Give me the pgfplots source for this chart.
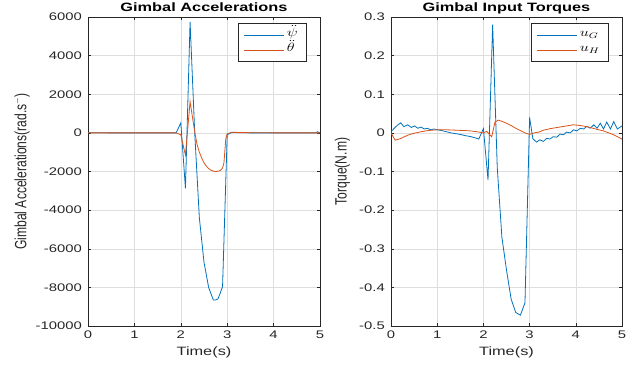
\documentclass[border=0pt]{standalone}
\usepackage{fontspec}
\setmainfont{Liberation Sans}[FakeStretch=1.35]
\newfontfamily\plainfont{Liberation Sans}
\usepackage{graphicx}
\usepackage{pgfplots}
\pgfplotsset{compat=1.18}
\definecolor{mblue}{rgb}{0,0.447,0.741}
\definecolor{morange}{rgb}{0.85,0.325,0.098}
\definecolor{maxis}{rgb}{0.15,0.15,0.15}
\definecolor{mgrid}{rgb}{0.87,0.87,0.87}
\pgfplotsset{every axis title shift=0pt}
\pgfplotsset{mstyle/.style={
  scale only axis, height=309pt,
  xmin=0, xmax=5, xtick={0,1,2,3,4,5}, xticklabels={0,1,2,3,4,5},
  scaled x ticks=false, scaled y ticks=false,
  grid=major, major grid style={mgrid, line width=0.5pt},
  axis line style={maxis, line width=0.5pt},
  tick style={maxis, line width=0.5pt},
  major tick length=3pt, tick align=inside, tick pos=both,
  ticklabel style={font=\fontsize{11}{13}\selectfont, text=maxis},
  xticklabel style={anchor=base, yshift=-12pt, inner sep=0pt},
  yticklabel style={anchor=east, xshift=-6pt, inner sep=0pt},
  title style={font=\fontsize{12.1}{14}\selectfont\bfseries, at={(axis description cs:0.5,1.0194)}, anchor=base, inner sep=0pt},
  xlabel style={font=\fontsize{12.1}{14}\selectfont, text=maxis, at={(axis description cs:0.5,-0.097)}, anchor=base, inner sep=0pt},
  ylabel style={anchor=center, inner sep=0pt, text=maxis},
  legend style={at={(0.94,0.98)}, anchor=north east, draw=maxis, line width=0.5pt, fill=white,
    font=\fontsize{12}{14}\selectfont, inner xsep=5pt, inner ysep=4pt, row sep=0pt,
    nodes={inner xsep=3pt, inner ysep=2.5pt, text height=7pt, text depth=3pt}},
  legend cell align=left,
  legend image code/.code={\draw[#1, line width=0.6pt] (0pt,0pt) -- (40pt,0pt);},
  every axis plot/.append style={line width=0.8pt},
}}
\begin{document}
\begin{tikzpicture}
\path[use as bounding box] (0,0) rectangle (643pt,370pt);
% Left axis
\begin{axis}[mstyle, anchor=south west, at={(88pt,44pt)}, width=232pt,
  ymin=-10000, ymax=6000, ytick={-10000,-8000,-6000,-4000,-2000,0,2000,4000,6000},
  yticklabels={-10000,-8000,-6000,-4000,-2000,0,2000,4000,6000},
  title={Gimbal Accelerations},
  xlabel={Time(s)},
  ylabel={\plainfont\fontsize{12.1}{14}\selectfont\scalebox{1}[1.35]{Gimbal Accelerations(rad.s$^{-}$)}},
  ylabel style={at={(axis description cs:-0.285,0.5)}},
]
\addplot[mblue] coordinates {
(0,10) (0.5,0) (1.0,0) (1.5,0) (1.9,0) (2.0,520) (2.1,-2870) (2.2,5750) (2.3,0) (2.4,-4400)
(2.5,-6700) (2.6,-8000) (2.7,-8650) (2.75,-8650) (2.8,-8600) (2.85,-8300) (2.9,-7950) (3.0,-100)
(3.1,20) (3.5,0) (4.0,0) (4.5,0) (4.9,0) (4.95,60) (5.0,0)
};
\addplot[morange] coordinates {
(0,0) (0.5,0) (1.0,0) (1.5,0) (1.9,0) (2.0,-100) (2.1,-1150) (2.2,1620) (2.3,50) (2.35,-600)
(2.4,-1000) (2.45,-1300) (2.5,-1550) (2.55,-1720) (2.6,-1850) (2.65,-1930) (2.7,-1980) (2.75,-2000)
(2.8,-1990) (2.85,-1950) (2.9,-1820) (2.93,-1550) (2.97,-300) (3.0,-50) (3.1,30) (3.5,10) (4.0,0) (5.0,0)
};
\legend{{\scalebox{1.35}[1]{$\ddot{\psi}$}},{\scalebox{1.35}[1]{$\ddot{\theta}$}}}
\end{axis}
% Right axis
\begin{axis}[mstyle, anchor=south west, at={(391pt,44pt)}, width=231pt,
  ymin=-0.5, ymax=0.3, ytick={-0.5,-0.4,-0.3,-0.2,-0.1,0,0.1,0.2,0.3},
  yticklabels={-0.5,-0.4,-0.3,-0.2,-0.1,0,0.1,0.2,0.3},
  title={Gimbal Input Torques},
  xlabel={Time(s)},
  ylabel={\plainfont\fontsize{12.1}{14}\selectfont\scalebox{1}[1.35]{Torque(N.m)}},
  ylabel style={at={(axis description cs:-0.21,0.5)}},
]
\addplot[mblue] coordinates {
(0,0.003) (0.07,0.012) (0.14,0.02) (0.21,0.026) (0.28,0.016) (0.36,0.021) (0.44,0.014) (0.51,0.018)
(0.58,0.012) (0.65,0.015) (0.72,0.010) (0.79,0.012) (0.86,0.008) (0.93,0.010) (1.0,0.008) (1.1,0.006)
(1.2,0.003) (1.3,0.0) (1.4,-0.002) (1.5,-0.004) (1.6,-0.007) (1.7,-0.009) (1.8,-0.012) (1.9,-0.016)
(2.0,0.011) (2.1,-0.122) (2.2,0.28) (2.3,-0.09) (2.4,-0.27) (2.5,-0.355) (2.6,-0.43) (2.7,-0.465)
(2.8,-0.472) (2.9,-0.44) (3.0,0.04) (3.07,-0.015) (3.15,-0.024) (3.22,-0.018) (3.30,-0.022)
(3.37,-0.014) (3.44,-0.016) (3.51,-0.010) (3.59,-0.011) (3.66,-0.003) (3.73,-0.005) (3.80,0.002)
(3.88,0.0) (3.95,0.008) (4.02,0.005) (4.10,0.012) (4.17,0.010) (4.24,0.017) (4.31,0.012) (4.39,0.021)
(4.46,0.012) (4.53,0.025) (4.60,0.010) (4.67,0.028) (4.75,0.010) (4.82,0.029) (4.90,0.010) (5.0,0.018)
};
\addplot[morange] coordinates {
(0,0) (0.09,-0.019) (0.2,-0.015) (0.36,-0.006) (0.5,-0.001) (0.65,0.003) (0.8,0.006) (1.0,0.008)
(1.2,0.008) (1.4,0.007) (1.6,0.006) (1.73,0.005) (1.91,0.002) (2.0,0.0) (2.07,0.004) (2.18,-0.01)
(2.25,0.028) (2.32,0.033) (2.4,0.03) (2.5,0.025) (2.6,0.019) (2.7,0.012) (2.8,0.006) (2.9,0.0)
(3.0,-0.004) (3.1,0.0) (3.2,0.002) (3.3,0.007) (3.45,0.011) (3.6,0.014) (3.8,0.018) (3.95,0.021)
(4.1,0.019) (4.25,0.016) (4.4,0.011) (4.6,0.005) (4.8,-0.004) (5.0,-0.016)
};
\legend{{\scalebox{1.35}[1]{$u_G$}},{\scalebox{1.35}[1]{$u_H$}}}
\end{axis}
\end{tikzpicture}
\end{document}
